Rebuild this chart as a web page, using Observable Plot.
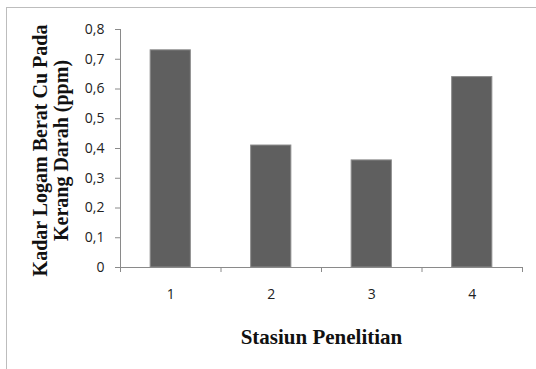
<!DOCTYPE html>
<html><head><meta charset="utf-8">
<script src="https://cdn.jsdelivr.net/npm/d3@7"></script>
<script src="https://cdn.jsdelivr.net/npm/@observablehq/plot@0.6"></script>
<style>
body{margin:0;background:#fff;}
#wrap{position:relative;width:536px;height:369px;overflow:hidden;}
#border{position:absolute;left:6px;top:7px;width:600px;height:400px;border-left:1.5px solid #bdbdbd;border-top:1.5px solid #bdbdbd;}
#chart{position:absolute;left:0;top:0;}
</style></head>
<body><div id="wrap"><div id="border"></div><div id="chart"></div></div>
<script>
const stations = [1, 2, 3, 4];
const values = [0.73, 0.41, 0.36, 0.64];
const yTicks = [0, 0.1, 0.2, 0.3, 0.4, 0.5, 0.6, 0.7, 0.8];
const yTitle = "Kadar Logam Berat Cu Pada\nKerang Darah (ppm)";
const xTitle = "Stasiun Penelitian";

const data = stations.map((s, i) => ({s, v: values[i]}));
const half = 0.2;
const boundaries = [0.5, 1.5, 2.5, 3.5, 4.5];
const axisColor = "#8a8a8a";
const fmt = d => String(d).replace(".", ",");

const chart = Plot.plot({
  width: 536, height: 369,
  marginLeft: 120, marginRight: 14, marginTop: 29, marginBottom: 102,
  style: {fontFamily: "'Open Sans', sans-serif", fontSize: "14px", color: "#222", background: "transparent"},
  x: {type: "linear", domain: [0.5, 4.5], axis: null},
  y: {domain: [0, 0.8], axis: null},
  marks: [
    Plot.rectY(data, {x1: d => d.s - half, x2: d => d.s + half, y: "v", fill: "#5f5f5f", stroke: "#8c8c8c", strokeWidth: 1}),
    Plot.ruleY([0], {stroke: axisColor}),
    Plot.ruleX([0.5], {y1: 0, y2: 0.8, stroke: axisColor}),
    Plot.axisX({ticks: boundaries, tickFormat: () => "", tickSize: 5, stroke: axisColor, label: null}),
    Plot.axisX({ticks: stations, tickFormat: d => String(d), tickSize: 0, tickPadding: 22, fill: "#222", label: null}),
    Plot.axisY({ticks: yTicks, tickFormat: fmt, tickSize: 5, tickPadding: 11, stroke: axisColor, fill: "#222", label: null}),
    Plot.text([yTitle], {frameAnchor: "left", textAnchor: "middle", rotate: -90, dx: -70, dy: 2, lineHeight: 1.05,
      fontFamily: "'Liberation Serif', serif", fontWeight: "bold", fontSize: 20, fill: "#111"}),
    Plot.text([xTitle], {frameAnchor: "bottom", dy: 76,
      fontFamily: "'Liberation Serif', serif", fontWeight: "bold", fontSize: 21, fill: "#111"})
  ]
});
document.getElementById("chart").appendChild(chart);
</script></body></html>
